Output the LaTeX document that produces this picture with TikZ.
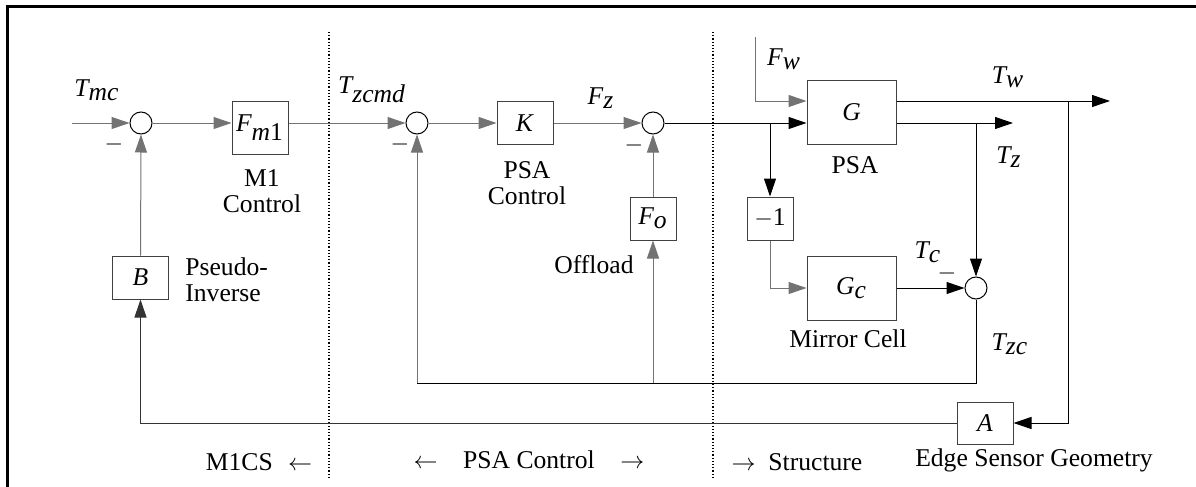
\documentclass[tikz,border=0pt]{standalone}
\usepackage{fontspec}
\setmainfont{Liberation Serif}
\usetikzlibrary{arrows.meta, positioning, calc}
\newcommand{\sym}[2]{$\textit{#1}_{\textit{#2}}$}

\begin{document}
\begin{tikzpicture}[
    x=0.5pt, y=-0.5pt,
    font=\fontsize{12.8}{13}\selectfont,
    blk/.style={rectangle, draw=black!75, line width=0.5pt, inner sep=0pt,
        minimum width=28pt, minimum height=21.5pt},
    bigblk/.style={blk, minimum width=44.5pt, minimum height=32pt},
    sumj/.style={circle, draw=black, line width=0.5pt, inner sep=0pt, minimum size=11pt},
    arr/.style={-{Triangle[length=9pt, width=6pt]}, line width=0.5pt},
    wire/.style={line width=0.5pt},
    grey/.style={draw=black!55},
    lbl/.style={inner sep=0pt, align=center},
    divider/.style={densely dotted, line width=0.6pt}
]
\useasboundingbox (0,0) rectangle (1196,487);
% frame
\draw[line width=1.5pt] (7,487) -- (7,6) -- (1196,6);
% section dividers
\draw[divider] (329,32) -- (329,477);
\draw[divider] (713,32) -- (713,477);

% M1CS (left)
\coordinate (in) at (72,123);
\node[sumj] (s1) at (141,123) {};
\node[blk, minimum height=26.5pt] (fm) at (260,127.5) {\sym{F}{m\textup{1}}};
\node[blk] (b) at (140.5,277.5) {\textit{B}};
\node[lbl] at (97,90) {\sym{T}{mc}};
\node[lbl] at (114,144) {$-$};
\node[lbl] at (262,191) {M1\\Control};
\node[lbl, anchor=west, align=left] at (185,280) {Pseudo-\\Inverse};
\draw[arr, grey] (in) -- (s1);
\draw[arr, grey] (s1) -- (fm.west |- s1);
\draw[arr, grey] (b) -- (s1);

% PSA control (middle)
\node[sumj] (s2) at (417,123) {};
\node[blk] (k) at (525,123) {\textit{K}};
\node[sumj] (s3) at (653,123) {};
\node[blk, minimum width=23pt] (fo) at (653,218.5) {\sym{F}{o}};
\coordinate (fb) at (653,383);
\coordinate (fl) at (417,383);
\node[lbl] at (372,90) {\sym{T}{zcmd}};
\node[lbl] at (400,144) {$-$};
\node[lbl] at (601,98) {\sym{F}{z}};
\node[lbl] at (634,145) {$-$};
\node[lbl] at (527,183) {PSA\\Control};
\node[lbl] at (594,265) {Offload};
\draw[arr, grey] (fm.east |- s1) -- (s2);
\draw[arr, grey] (s2) -- (k);
\draw[arr, grey] (k) -- (s3);
\draw[arr, grey] (fb) -- (fo);
\draw[arr, grey] (fo) -- (s3);
\draw[arr, grey] (fl) -- (s2);

% Structure (right)
\node[bigblk] (g) at (851.5,112) {\textit{G}};
\node[blk, minimum width=23pt] (neg) at (770,218.5) {$-$1};
\node[bigblk] (gc) at (851.5,288) {\sym{G}{c}};
\node[sumj] (s4) at (976,288) {};
\node[blk, minimum height=21pt] (a) at (985,423) {\textit{A}};
\coordinate (fw) at (755,37);
\coordinate (jb) at (770,123);
\coordinate (jz) at (976,123);
\coordinate (jw) at (1068,101);
\coordinate (tw) at (1110,101);
\coordinate (tz) at (1013,123);
\node[lbl] at (784,59) {\sym{F}{w}};
\node[lbl] at (1008,77) {\sym{T}{w}};
\node[lbl] at (1009,157) {\sym{T}{z}};
\node[lbl] at (928,252) {\sym{T}{c}};
\node[lbl] at (947,273) {$-$};
\node[lbl] at (1010,344) {\sym{T}{zc}};
\node[lbl] at (855,165) {PSA};
\node[lbl] at (848,339) {Mirror Cell};
\draw[arr] (s3) -- (g.west |- s3);
\draw[arr, grey] (fw) |- ([yshift=5.5pt]g.west);
\draw[arr] (jb) -- (neg);
\draw[arr, grey] (neg) |- (gc);
\draw[arr] ([yshift=5.5pt]g.east) -- (tw);
\draw[arr] ([yshift=-5.5pt]g.east) -- (tz);
\draw[arr] (jz) -- (s4);
\draw[arr] (gc) -- (s4);
\draw[wire] (s4) |- (fl);
\draw[arr] (jw) |- (a);
\draw[arr, draw=black!80] (a) -| (b);

% section captions
\node[lbl] at (259,462) {M1CS\hspace{0.6em}$\leftarrow$};
\node[lbl] at (529,460) {$\leftarrow$\quad PSA Control\quad $\rightarrow$};
\node[lbl] at (797,462) {$\rightarrow$\hspace{0.5em}Structure};
\node[lbl] at (1034,460) {Edge Sensor Geometry};
\end{tikzpicture}
\end{document}
